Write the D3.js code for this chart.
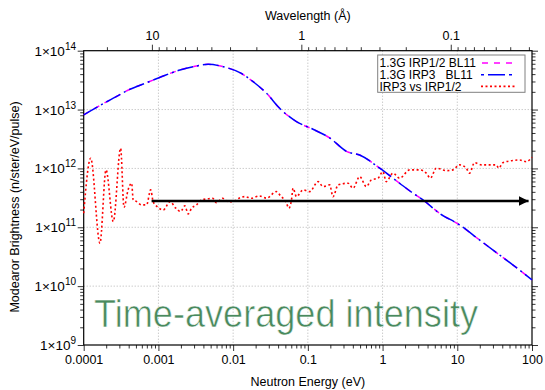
<!DOCTYPE html>
<html>
<head>
<meta charset="utf-8">
<script src="https://cdn.jsdelivr.net/npm/d3@7"></script>
<style>
  body { margin: 0; background: #fff; }
  svg { display: block; }
  text { font-family: "Liberation Sans", Arial, Helvetica, sans-serif; }
</style>
</head>
<body>
<svg id="chart" width="545" height="390"></svg>
<script>
// Neutron energy (eV) at which the moderator spectrum was sampled
const spectrumEnergy = [1e-4, 1.34e-4, 2.49e-4, 4.16e-4, 6.95e-4, 1.16e-3, 1.94e-3, 3.24e-3, 4.63e-3,
  7.35e-3, 0.0123, 0.0185, 0.028, 0.042, 0.0704, 0.117, 0.196, 0.334, 0.494, 0.915, 1.69, 2.55,
  3.47, 5.78, 10.7, 19.8, 36.6, 55.3, 100];
// Brightness, 1.3G IRP1/2 target, beamline 11 (n/ster/eV/pulse)
const irp12Brightness = [8.1e12, 1.01e13, 1.56e13, 2.21e13, 2.86e13, 3.72e13, 4.70e13, 5.50e13, 5.87e13,
  5.35e13, 4.23e13, 2.98e13, 1.89e13, 1.05e13, 6.24e12, 4.63e12, 3.3e12, 1.93e12, 1.69e12, 1.01e12, 5.6e11, 3.8e11,
  2.92e11, 1.73e11, 1.1e11, 6.1e10, 3.4e10, 2.3e10, 1.28e10];
// Brightness, 1.3G IRP3 target, beamline 11
const irp3Brightness = [8.1e12, 1.01e13, 1.56e13, 2.21e13, 2.86e13, 3.72e13, 4.70e13, 5.50e13, 5.87e13,
  5.35e13, 4.23e13, 2.98e13, 1.89e13, 1.05e13, 6.24e12, 4.63e12, 3.3e12, 1.93e12, 1.69e12, 1.01e12, 5.6e11, 3.8e11,
  2.92e11, 1.73e11, 1.1e11, 6.1e10, 3.4e10, 2.3e10, 1.28e10];

// IRP3 vs IRP1/2 comparison curve
const ratioEnergy = [1e-4, 1.24e-4, 1.65e-4, 1.99e-4, 2.49e-4, 3.12e-4, 3.46e-4, 3.95e-4, 4.38e-4, 4.60e-4,
  5.11e-4, 5.96e-4, 6.95e-4, 7.87e-4, 8.51e-4, 9.63e-4, 1.16e-3, 1.43e-3, 1.71e-3, 1.98e-3, 2.26e-3, 2.50e-3,
  2.78e-3, 3.24e-3, 3.78e-3, 4.41e-3, 5.30e-3, 6.00e-3, 7.21e-3, 8.57e-3, 0.0100, 0.0120, 0.0143, 0.0176,
  0.0223, 0.0280, 0.0380, 0.0421, 0.0517, 0.0556, 0.0604, 0.0634, 0.0704, 0.0863, 0.106, 0.137, 0.160, 0.196,
  0.217, 0.254, 0.345, 0.402, 0.494, 0.607, 0.708, 0.868, 1.01, 1.12, 1.38, 1.69, 2.30, 3.13, 3.85, 4.36, 5.24,
  7.13, 8.73, 10.7, 13.2, 14.6, 17.0, 20.9, 27.0, 33.2, 36.0, 40.7, 55.4, 68.1, 83.6, 100];
const ratioValue = [1.73e11, 1.49e12, 5.37e10, 9.44e11, 1.25e11, 2.20e12, 2.19e11, 4.44e11, 5.61e11, 2.92e11,
  2.73e11, 2.40e11, 2.40e11, 4.32e11, 2.73e11, 2.24e11, 1.97e11, 2.73e11, 2.11e11, 1.85e11, 2.31e11, 1.69e11,
  2.11e11, 2.40e11, 2.92e11, 3.03e11, 3.12e11, 2.62e11, 3.12e11, 2.73e11, 2.73e11, 3.12e11, 3.32e11, 3.12e11,
  3.41e11, 3.12e11, 4.04e11, 3.55e11, 2.57e11, 2.11e11, 2.92e11, 4.61e11, 3.32e11, 4.32e11, 4.04e11, 5.97e11,
  4.91e11, 5.25e11, 3.32e11, 5.25e11, 5.61e11, 4.61e11, 7.26e11, 4.91e11, 6.38e11, 6.82e11, 8.83e11, 5.97e11,
  8.30e11, 6.82e11, 9.44e11, 9.44e11, 8.30e11, 6.82e11, 1.01e12, 9.18e11, 9.44e11, 1.15e12, 1.01e12, 8.30e11,
  1.25e12, 1.15e12, 1.15e12, 1.15e12, 1.01e12, 1.25e12, 1.36e12, 1.39e12, 1.30e12, 1.55e12];

// Horizontal arrow: from 10 Å out to ~90 eV at a constant level
const arrowEnergy = [8.1e-4, 90];
const arrowLevel = [2.8e11, 2.8e11];

const energyTicks = [1e-4, 1e-3, 1e-2, 0.1, 1, 10, 100];
const energyTickLabels = ["0.0001", "0.001", "0.01", "0.1", "1", "10", "100"];
const wavelengthTicks = [10, 1, 0.1];
const wavelengthTickLabels = ["10", "1", "0.1"];
const brightnessTicks = [1e9, 1e10, 1e11, 1e12, 1e13, 1e14];
const brightnessExponents = ["9", "10", "11", "12", "13", "14"];

const legendLabels = ["1.3G IRP1/2 BL11", "1.3G IRP3   BL11", "IRP3 vs IRP1/2"];

// λ(Å) = 0.286 / sqrt(E[eV])
const toWavelength = e => 0.286 / Math.sqrt(e);

const svg = d3.select("#chart");
const L = 83.7, R = 532, T = 50.7, B = 345;

const x = d3.scaleLog().domain([1e-4, 100]).range([L, R]);
const xTop = d3.scaleLog().domain([toWavelength(1e-4), toWavelength(100)]).range([L, R]);
const y = d3.scaleLog().domain([1e9, 1e14]).range([B, T]);

function minorTicks(lo, hi) {
  const out = [];
  for (let d = Math.floor(Math.log10(lo)) - 1; d <= Math.ceil(Math.log10(hi)); d++) {
    for (let m = 2; m <= 9; m++) {
      const v = m * Math.pow(10, d);
      if (v > lo * 1.0001 && v < hi * 0.9999) out.push(v);
    }
  }
  return out;
}

// grid
const grid = svg.append("g").attr("stroke", "#b4b4b4").attr("stroke-width", 1).attr("stroke-dasharray", "1,2");
energyTicks.slice(1, -1).forEach(v => {
  grid.append("line").attr("x1", x(v)).attr("x2", x(v)).attr("y1", T).attr("y2", B);
});
brightnessTicks.slice(1, -1).forEach(v => {
  grid.append("line").attr("x1", L).attr("x2", R).attr("y1", y(v)).attr("y2", y(v));
});

// axes
const bottomAxis = d3.axisBottom(x).tickValues(energyTicks).tickFormat((d, i) => energyTickLabels[i]).tickSize(6).tickPadding(4);
const bottomMinor = d3.axisBottom(x).tickValues(minorTicks(1e-4, 100)).tickFormat("").tickSize(3.5);
const topAxis = d3.axisTop(xTop).tickValues(wavelengthTicks).tickFormat((d, i) => wavelengthTickLabels[i]).tickSize(6).tickPadding(5);
const topMinor = d3.axisTop(xTop).tickValues(minorTicks(toWavelength(100), toWavelength(1e-4))).tickFormat("").tickSize(3.5);
const leftAxis = d3.axisLeft(y).tickValues(brightnessTicks).tickFormat("").tickSize(6);
const leftMinor = d3.axisLeft(y).tickValues(minorTicks(1e9, 1e14)).tickFormat("").tickSize(3.5);
const rightAxis = d3.axisRight(y).tickValues(brightnessTicks).tickFormat("").tickSize(6);
const rightMinor = d3.axisRight(y).tickValues(minorTicks(1e9, 1e14)).tickFormat("").tickSize(3.5);

function styleAxis(g) {
  g.select(".domain").remove();
  g.selectAll(".tick line").attr("stroke", "#000").attr("stroke-width", 0.8);
  g.selectAll(".tick text").attr("fill", "#000").attr("font-size", 12.5)
    .attr("font-family", "'Liberation Sans', Arial, sans-serif");
}
svg.append("g").attr("transform", `translate(0,${B})`).call(bottomAxis).call(styleAxis);
svg.append("g").attr("transform", `translate(0,${B})`).call(bottomMinor).call(styleAxis);
svg.append("g").attr("transform", `translate(0,${T})`).call(topAxis).call(styleAxis);
svg.append("g").attr("transform", `translate(0,${T})`).call(topMinor).call(styleAxis);
svg.append("g").attr("transform", `translate(${L},0)`).call(leftAxis).call(styleAxis);
svg.append("g").attr("transform", `translate(${L},0)`).call(leftMinor).call(styleAxis);
svg.append("g").attr("transform", `translate(${R},0)`).call(rightAxis).call(styleAxis);
svg.append("g").attr("transform", `translate(${R},0)`).call(rightMinor).call(styleAxis);

// y tick labels with superscript exponents
const yLabels = svg.append("g").attr("font-size", 13.5).attr("fill", "#000");
brightnessTicks.forEach((v, i) => {
  const t = yLabels.append("text").attr("x", 76).attr("y", y(v) + 5).attr("text-anchor", "end");
  t.append("tspan").text("1×10");
  t.append("tspan").attr("font-size", 10).attr("dy", -6).text(brightnessExponents[i]);
});

// frame
svg.append("rect").attr("x", L).attr("y", T).attr("width", R - L).attr("height", B - T)
  .attr("fill", "none").attr("stroke", "#000").attr("stroke-width", 1.2);

// axis titles
svg.append("text").attr("x", (L + R) / 2).attr("y", 386).attr("text-anchor", "middle")
  .attr("font-size", 12.5).text("Neutron Energy (eV)");
svg.append("text").attr("x", (L + R) / 2).attr("y", 20).attr("text-anchor", "middle")
  .attr("font-size", 12.5).text("Wavelength (Å)");
svg.append("text").attr("transform", `translate(19,207) rotate(-90)`).attr("text-anchor", "middle")
  .attr("font-size", 12.5).text("Modearor Brightness (n/ster/eV/pulse)");

// annotation text, a light-weight caption (outline in white to thin the strokes)
svg.append("text").attr("x", 94).attr("y", 327)
  .attr("font-family", "Lato, 'Open Sans', sans-serif")
  .attr("font-size", 39).attr("fill", "#4a8a5e")
  .attr("stroke", "#fff").attr("stroke-width", 0.6)
  .attr("textLength", 384).attr("lengthAdjust", "spacingAndGlyphs")
  .text("Time-averaged intensity");

// curves
const plot = svg.append("g");
const lineOf = (xs, ys) => d3.line().x((d, i) => x(xs[i])).y((d, i) => y(ys[i])).curve(d3.curveMonotoneX)(xs);

const seriesStyle = [
  { color: "#ff00ff", dash: "6,6", width: 1.5 },
  { color: "#0000ff", dash: "16,4,2,4", width: 1.5 },
  { color: "#ff0000", dash: "2,2.5", width: 1.6 }
];

plot.append("path").attr("d", lineOf(spectrumEnergy, irp12Brightness)).attr("fill", "none")
  .attr("stroke", seriesStyle[0].color).attr("stroke-width", seriesStyle[0].width).attr("stroke-dasharray", seriesStyle[0].dash);
plot.append("path").attr("d", lineOf(spectrumEnergy, irp3Brightness)).attr("fill", "none")
  .attr("stroke", seriesStyle[1].color).attr("stroke-width", seriesStyle[1].width).attr("stroke-dasharray", seriesStyle[1].dash);
plot.append("path").attr("d", lineOf(ratioEnergy, ratioValue)).attr("fill", "none")
  .attr("stroke", seriesStyle[2].color).attr("stroke-width", seriesStyle[2].width).attr("stroke-dasharray", seriesStyle[2].dash);

// arrow
svg.append("defs").append("marker").attr("id", "head")
  .attr("viewBox", "0 0 10 10").attr("refX", 10).attr("refY", 5)
  .attr("markerUnits", "userSpaceOnUse").attr("markerWidth", 10).attr("markerHeight", 10)
  .attr("orient", "auto")
  .append("path").attr("d", "M0,0 L10,5 L0,10 Z").attr("fill", "#000");
svg.append("line")
  .attr("x1", x(arrowEnergy[0])).attr("y1", y(arrowLevel[0]))
  .attr("x2", x(arrowEnergy[1])).attr("y2", y(arrowLevel[1]))
  .attr("stroke", "#000").attr("stroke-width", 2.5).attr("marker-end", "url(#head)");

// legend
const lg = svg.append("g");
lg.append("rect").attr("x", 377.7).attr("y", 55).attr("width", 147.3).attr("height", 37.3)
  .attr("fill", "#fff").attr("stroke", "#808080").attr("stroke-width", 1);
legendLabels.forEach((lab, i) => {
  const cy = 63 + i * 11.7;
  lg.append("text").attr("x", 379.5).attr("y", cy + 4.2).attr("font-size", 12)
    .attr("xml:space", "preserve").style("white-space", "pre").text(lab);
  lg.append("line").attr("x1", 481).attr("x2", 515).attr("y1", cy).attr("y2", cy)
    .attr("stroke", seriesStyle[i].color).attr("stroke-width", seriesStyle[i].width)
    .attr("stroke-dasharray", i === 0 ? "6,6" : i === 1 ? "3,4,17,4" : "2,2.5")
    .attr("stroke-dashoffset", i === 0 ? -1 : 0);
});
</script>
</body>
</html>
